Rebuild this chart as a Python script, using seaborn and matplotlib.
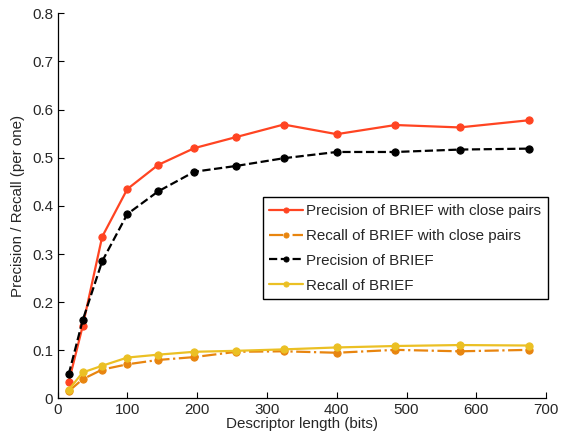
import matplotlib
matplotlib.use("Agg")
import matplotlib.pyplot as plt
import seaborn as sns
import numpy as np
from matplotlib.ticker import FuncFormatter

sns.set_style("white")
plt.rcParams['font.family'] = ['Liberation Sans', 'DejaVu Sans']

lengths = [16, 36, 64, 100, 144, 196, 256, 324, 400, 484, 576, 676]
prec_close = [0.034, 0.150, 0.336, 0.435, 0.485, 0.520, 0.543, 0.569, 0.549, 0.568, 0.563, 0.578]
recall_close = [0.015, 0.040, 0.060, 0.071, 0.080, 0.086, 0.097, 0.098, 0.095, 0.101, 0.098, 0.101]
prec_brief = [0.050, 0.162, 0.285, 0.383, 0.430, 0.471, 0.483, 0.499, 0.512, 0.512, 0.517, 0.519]
recall_brief = [0.018, 0.054, 0.068, 0.085, 0.091, 0.097, 0.099, 0.102, 0.106, 0.109, 0.111, 0.110]

labels = ["Precision of BRIEF with close pairs", "Recall of BRIEF with close pairs",
          "Precision of BRIEF", "Recall of BRIEF"]
series = [prec_close, recall_close, prec_brief, recall_brief]
colors = ["#FF4422", "#E8850F", "#000000", "#EBC024"]
styles = ["-", "-.", "--", "-"]

fig = plt.figure(figsize=(5.61, 4.41), dpi=100)
ax = fig.add_axes([0.1025, 0.0964, 0.871, 0.8734])

for lab, ys, c, ls in zip(labels, series, colors, styles):
    sns.lineplot(x=lengths, y=ys, ax=ax, color=c, linestyle=ls, linewidth=1.6,
                 marker="o", markersize=5.2, markeredgecolor=c, label=lab)

ax.set_xlim(0, 700)
ax.set_ylim(0, 0.8)
ax.set_xticks(np.arange(0, 701, 100))
ax.set_yticks(np.arange(0, 0.81, 0.1))
ax.yaxis.set_major_formatter(FuncFormatter(lambda v, p: "0" if abs(v) < 1e-9 else f"{v:.1f}"))
ax.tick_params(direction="in", length=4, width=0.8, labelsize=10.9, color="black",
               bottom=True, left=True, pad=3)
for s in ["top", "right"]:
    ax.spines[s].set_visible(False)
for s in ["left", "bottom"]:
    ax.spines[s].set_color("black")
    ax.spines[s].set_linewidth(0.9)

ax.set_xlabel("Descriptor length (bits)", fontsize=10.9, labelpad=0)
ax.set_ylabel("Precision / Recall (per one)", fontsize=10.9, labelpad=5)

leg = ax.legend(loc="center right", bbox_to_anchor=(1.003, 0.39), fontsize=10.9,
                frameon=True, fancybox=False, edgecolor="black", framealpha=1,
                handlelength=2.2, borderpad=0.45, labelspacing=0.72, handletextpad=0.2,
                borderaxespad=0, markerscale=0.7)
leg.get_frame().set_linewidth(1.0)

fig.savefig("out.png", dpi=100, facecolor="white")
